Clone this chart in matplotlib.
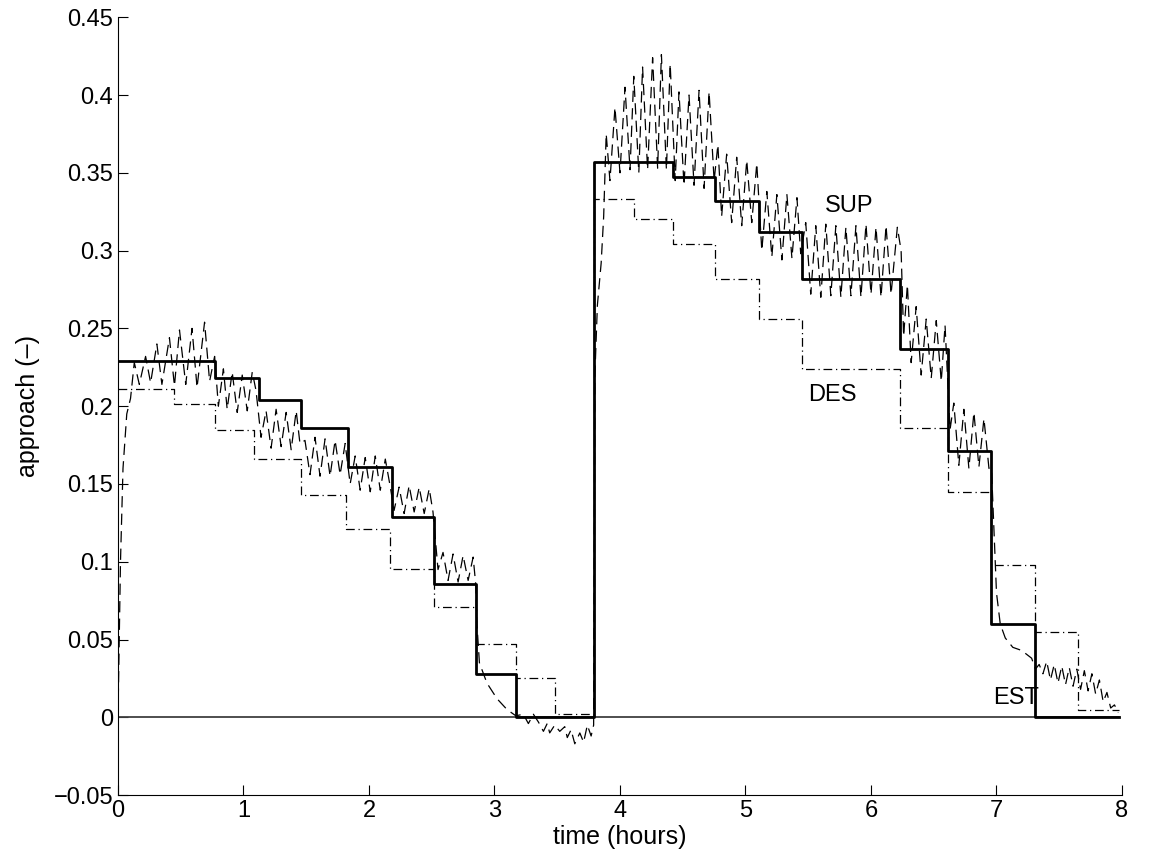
import matplotlib.pyplot as plt
from matplotlib.ticker import FuncFormatter

plt.rcParams['font.family'] = ['Liberation Sans', 'DejaVu Sans']

# EST: step times (hours) and the level held after each step
est_t = [0, 0.77, 1.12, 1.46, 1.83, 2.18, 2.52, 2.85, 3.17, 3.79,
         4.42, 4.76, 5.11, 5.45, 6.23, 6.61, 6.96, 7.31, 7.98]
est_v = [0.229, 0.218, 0.204, 0.186, 0.161, 0.129, 0.086, 0.028, 0.0,
         0.357, 0.347, 0.332, 0.312, 0.282, 0.237, 0.171, 0.060, 0.0]

# DES: step times and levels
des_t = [0, 0.45, 0.77, 1.08, 1.46, 1.82, 2.17, 2.52, 2.85, 3.17, 3.48,
         3.79, 4.11, 4.42, 4.76, 5.11, 5.45, 6.23, 6.61, 6.96, 7.31, 7.65, 7.98]
des_v = [0.211, 0.2015, 0.185, 0.166, 0.143, 0.121, 0.0955, 0.071, 0.047,
         0.025, 0.002, 0.333, 0.320, 0.304, 0.282, 0.256, 0.224, 0.186,
         0.145, 0.098, 0.055, 0.005]

# SUP: measured supply, fast oscillation around each step
sup_t = [0.0, 0.02, 0.04, 0.07, 0.10,
         0.13, 0.17, 0.22, 0.26, 0.31, 0.35, 0.41, 0.45, 0.49, 0.54, 0.59, 0.63, 0.69, 0.73, 0.77,
         0.80, 0.84, 0.87, 0.91, 0.95, 0.99, 1.03, 1.07, 1.10,
         1.14, 1.18, 1.22, 1.26, 1.30, 1.34, 1.38, 1.42, 1.45,
         1.49, 1.53, 1.57, 1.61, 1.65, 1.69, 1.73, 1.77, 1.81,
         1.85, 1.89, 1.93, 1.97, 2.01, 2.05, 2.09, 2.13, 2.17,
         2.20, 2.24, 2.28, 2.32, 2.36, 2.40, 2.44, 2.48, 2.51,
         2.55, 2.59, 2.63, 2.67, 2.71, 2.75, 2.79, 2.83,
         2.85, 2.86, 2.88, 2.94, 3.02, 3.10, 3.17,
         3.23, 3.27, 3.31, 3.35, 3.39, 3.42, 3.44, 3.48, 3.52, 3.56, 3.58, 3.61, 3.64, 3.68,
         3.71, 3.74, 3.77, 3.79,
         3.80, 3.82, 3.85, 3.87, 3.89, 3.92, 3.96, 4.00, 4.04, 4.08, 4.11, 4.15, 4.18, 4.22,
         4.26, 4.30, 4.33, 4.37, 4.40, 4.44, 4.47, 4.51, 4.55, 4.59, 4.63, 4.67, 4.71, 4.75,
         4.78, 4.81, 4.85, 4.89, 4.93, 4.97, 5.01, 5.05, 5.09,
         5.13, 5.17, 5.21, 5.25, 5.29, 5.33, 5.37, 5.41, 5.44,
         5.48, 5.52, 5.56, 5.60, 5.64, 5.68, 5.72, 5.76, 5.80, 5.84, 5.88, 5.92, 5.96, 6.00,
         6.04, 6.08, 6.12, 6.16, 6.21,
         6.24, 6.26, 6.29, 6.32, 6.36, 6.40, 6.44, 6.48, 6.52, 6.56, 6.59,
         6.63, 6.66, 6.70, 6.74, 6.78, 6.82, 6.86, 6.90, 6.94,
         6.96, 6.98, 7.00, 7.03, 7.07, 7.13, 7.20, 7.28, 7.31,
         7.34, 7.37, 7.40, 7.43, 7.46, 7.49, 7.52, 7.55, 7.58, 7.61, 7.64,
         7.67, 7.70, 7.73, 7.76, 7.79, 7.82, 7.85, 7.88, 7.91, 7.94, 7.97]
sup_v = [0.0, 0.10, 0.16, 0.195, 0.205,
         0.228, 0.214, 0.232, 0.215, 0.240, 0.214, 0.244, 0.213, 0.249, 0.214, 0.250, 0.212, 0.254, 0.216, 0.232,
         0.200, 0.224, 0.198, 0.222, 0.196, 0.220, 0.197, 0.222, 0.210,
         0.180, 0.197, 0.173, 0.198, 0.174, 0.196, 0.172, 0.197, 0.176,
         0.178, 0.156, 0.180, 0.155, 0.179, 0.155, 0.178, 0.156, 0.176,
         0.150, 0.168, 0.146, 0.167, 0.145, 0.168, 0.146, 0.166, 0.148,
         0.133, 0.148, 0.131, 0.149, 0.132, 0.148, 0.131, 0.147, 0.132,
         0.095, 0.106, 0.088, 0.105, 0.087, 0.104, 0.088, 0.103,
         0.086, 0.060, 0.035, 0.022, 0.012, 0.005, 0.001,
         0.002, -0.004, 0.002, -0.003, -0.009, -0.004, -0.010, -0.005, -0.009, -0.006, -0.013, -0.008, -0.017, -0.010,
         -0.016, -0.005, -0.012, -0.005,
         0.22, 0.265, 0.292, 0.322, 0.375, 0.345, 0.392, 0.350, 0.405, 0.352, 0.412, 0.350, 0.418, 0.352,
         0.424, 0.353, 0.426, 0.352, 0.420, 0.345, 0.402, 0.342, 0.400, 0.342, 0.403, 0.340, 0.402, 0.345,
         0.368, 0.322, 0.362, 0.318, 0.360, 0.316, 0.358, 0.318, 0.356,
         0.300, 0.338, 0.296, 0.336, 0.294, 0.336, 0.295, 0.334, 0.298,
         0.318, 0.272, 0.316, 0.270, 0.317, 0.271, 0.316, 0.270, 0.315, 0.271, 0.316, 0.270, 0.317, 0.272,
         0.315, 0.270, 0.316, 0.272, 0.315,
         0.300, 0.245, 0.278, 0.228, 0.264, 0.220, 0.256, 0.218, 0.255, 0.216, 0.252,
         0.185, 0.202, 0.162, 0.198, 0.160, 0.196, 0.161, 0.192, 0.160,
         0.160, 0.120, 0.080, 0.060, 0.051, 0.045, 0.043, 0.038, 0.031,
         0.034, 0.028, 0.036, 0.024, 0.034, 0.022, 0.033, 0.021, 0.032, 0.020, 0.031,
         0.018, 0.030, 0.017, 0.028, 0.015, 0.024, 0.010, 0.016, 0.006, 0.008, 0.003]

zero_t = [0, 7.98]
zero_v = [0, 0]

fig = plt.figure(figsize=(11.51, 8.61), dpi=100)
ax = fig.add_axes([0.1025, 0.0765, 0.8723, 0.9035])

ax.plot(zero_t, zero_v, color='0.25', lw=1.3)
ax.step(des_t, des_v + [des_v[-1]], where='post', color='k', lw=0.9,
        linestyle=(0, (7, 3, 1, 3)))
ax.plot(sup_t, sup_v, color='k', lw=0.9, dashes=(9, 5))
ax.step(est_t, est_v + [est_v[-1]], where='post', color='k', lw=2.0)

ax.text(5.63, 0.3285, 'SUP', fontsize=17, va='center')
ax.text(5.50, 0.207, 'DES', fontsize=17, va='center')
ax.text(6.97, 0.0125, 'EST', fontsize=17, va='center')

ax.set_xlim(0, 8)
ax.set_ylim(-0.05, 0.45)
ax.set_yticks([-0.05 + 0.05 * i for i in range(11)])
ax.yaxis.set_major_formatter(FuncFormatter(lambda v, p: f'{v:g}'.replace('-', '\u2212') if abs(v) > 1e-9 else '0'))
ax.spines['top'].set_visible(False)
ax.spines['right'].set_visible(False)
ax.tick_params(direction='in', length=7, labelsize=17, width=0.8)
ax.set_xlabel('time (hours)', fontsize=18, labelpad=2)
ax.set_ylabel('approach (\u2013)', fontsize=18, labelpad=10)

fig.savefig('out.png', dpi=100)
